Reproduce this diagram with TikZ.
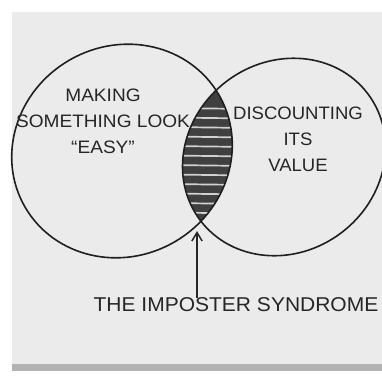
\documentclass[tikz,border=0pt]{standalone}
\usepackage{fontspec}
\setmainfont{Liberation Sans}
\usepackage{tikz}
\usetikzlibrary{positioning,arrows.meta}

\begin{document}
\begin{tikzpicture}[
  x=1pt, y=-1pt,
  >={Straight Barb[length=3mm,width=3.6mm]},
  paper/.style ={fill=black!8, draw=none},
  ring/.style  ={draw=black!88, line width=1.6pt},
  hand/.style  ={font=\fontsize{18}{26}\selectfont, text=black!85, align=center, inner sep=0pt, transform shape},
  hatch/.style ={draw=white!82!black, line width=1.7pt},
  flow/.style  ={->, draw=black!85, line width=1.5pt},
]
% page and napkin
\useasboundingbox (0,0) rectangle (382,381);
\fill[white] (0,0) rectangle (382,381);
\path[paper] (12,12) rectangle (382,364);
\fill[black!30] (12,364) rectangle (382,371);
% circle centres
\coordinate (lc) at (122,151);
\coordinate (rc) at (284,157);
\def\leftring{(lc) ellipse [x radius=112pt, y radius=105pt, rotate=30]}
\def\rightring{(rc) ellipse [x radius=105pt, y radius=95pt, rotate=37]}
% shaded overlap
\begin{scope}
  \clip \leftring;
  \clip \rightring;
  \fill[black!75] (170,80) rectangle (250,235);
  \foreach \yy in {108,117.5,...,214}
    \draw[hatch] (170,\yy) -- (250,\yy+1);
\end{scope}
\draw[ring] \leftring;
\draw[ring] \rightring;
% labels
\node[hand, xscale=1.06] (make) at (103,121) {MAKING\\SOMETHING LOOK\\``EASY''};
\node[hand, xscale=1.03] (disc) at (298,139) {DISCOUNTING\\ITS\\VALUE};
\node[hand, font=\fontsize{20}{24}\selectfont, xscale=1.05] (imp) at (236,305) {THE IMPOSTER SYNDROME};
% arrow
\coordinate (lensbot) at (197,231);
\draw[flow] (imp.north -| lensbot) -- (lensbot);
\end{tikzpicture}
\end{document}
